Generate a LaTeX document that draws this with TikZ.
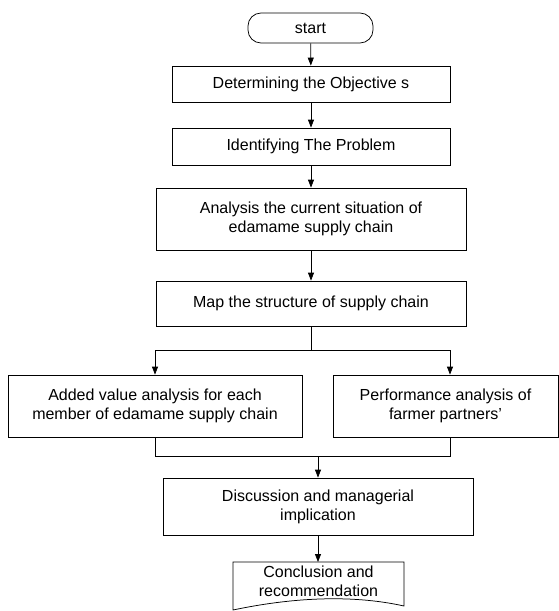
\documentclass[tikz,border=0pt]{standalone}
\usepackage{fontspec}
\setmainfont{Liberation Sans}
\usetikzlibrary{arrows.meta}
\begin{document}
\begin{tikzpicture}[x=1pt,y=-1pt,
  line width=0.75pt,
  txt/.style={font=\fontsize{16}{19}\selectfont, align=center},
  proc/.style={txt, draw, inner sep=0pt},
  terminal/.style={txt, draw, inner sep=0pt, rounded corners=13pt},
  arr/.style={-{Triangle[length=8pt,width=6pt]}},
  ln/.style={-}]
\useasboundingbox (0,0) rectangle (559,611);
\node[terminal, minimum width=125pt, minimum height=30pt] (start) at (310.5,28) {start};
\node[proc, minimum width=278pt, minimum height=36pt] (b1) at (311,84) {Determining the Objective s};
\node[proc, minimum width=278pt, minimum height=37pt] (b2) at (311,146.5) {Identifying The Problem};
\node[proc, minimum width=310pt, minimum height=62pt] (b3) at (311,219) {Analysis the current situation of\\edamame supply chain};
\node[proc, minimum width=310pt, minimum height=45pt] (b4) at (311,303.5) {Map the structure of supply chain};
\node[proc, minimum width=294pt, minimum height=62pt] (lb) at (155,406) {Added value analysis for each\\member of edamame supply chain};
\node[proc, minimum width=225pt, minimum height=62pt] (rb) at (445.5,406) {Performance analysis of\\farmer partners'};
\node[proc, minimum width=310pt, minimum height=57pt] (disc) at (318,506.5) {Discussion and managerial\\implication};
\draw (233,562) -- (233,610) .. controls (290,598) and (350,594) .. (404,606) -- (404,562) -- cycle;
\node[txt, inner sep=0pt] (doc) at (318.5,581) {Conclusion and\\recommendation};
\coordinate (split) at (311,350);
\coordinate (merge) at (318,456);
\draw[arr] (start) -- (b1);
\draw[arr] (b1) -- (b2);
\draw[arr] (b2) -- (b3);
\draw[arr] (b3) -- (b4);
\draw[ln] (b4) -- (split);
\draw[arr] (split) -| (lb.north);
\draw[arr] (split) -| ([xshift=4.5pt]rb.north);
\draw[ln] (lb.south) |- (merge);
\draw[ln] ([xshift=4.5pt]rb.south) |- (merge);
\draw[arr] (merge) -- (disc);
\draw[arr] (disc.south) -- (318,562);
\end{tikzpicture}
\end{document}
